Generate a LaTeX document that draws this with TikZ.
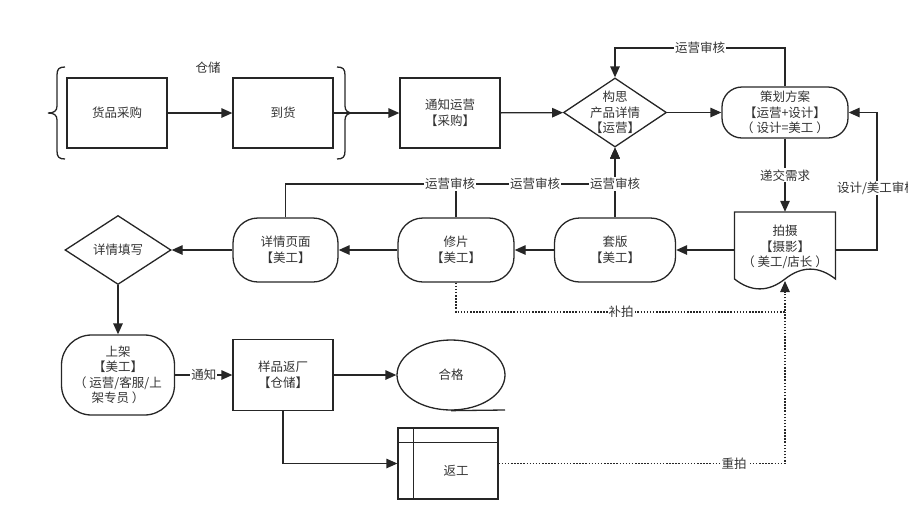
\documentclass[tikz,border=0pt]{standalone}
\usepackage{fontspec}
\setmainfont{Noto Sans CJK SC}
\usetikzlibrary{arrows.meta,shapes.geometric,calc}
\definecolor{ink}{HTML}{262626}
\definecolor{txt}{HTML}{333333}
\begin{document}
\begin{tikzpicture}[x=1pt,y=-1pt,
  every node/.style={font=\fontsize{12.5}{15.5}\selectfont, text=txt},
  ln/.style={line width=1.3pt, draw=ink},
  arr/.style={ln, -{Triangle[length=11pt,width=9.5pt]}},
  dotln/.style={ln, dash pattern=on 1.5pt off 1.6pt},
  box/.style={ln, rectangle, minimum width=100pt, minimum height=70pt, align=center, inner sep=0pt},
  rbox/.style={box, rounded corners=25pt},
  dia/.style={ln, diamond, inner sep=0pt},
  lbl/.style={fill=white, inner sep=1pt},
]
\useasboundingbox (0,0) rectangle (908,531);

% top row
\node[box] (caigou) at (117,113) {货品采购};
\node[box] (daohuo) at (283,113) {到货};
\node[box] (tongzhi) at (450,113) {通知运营\\【采购】};
\node[dia, minimum width=103pt, minimum height=69pt] (gousi) at (615,112.5) {};
\node[align=center] (gousitxt) at (gousi.center) {构思\\产品详情\\【运营】};
\node[rbox, minimum width=126pt, minimum height=51pt, rounded corners=20pt] (cehua) at (785,112.5) {策划方案\\【运营+设计】\\（ 设计=美工 ）};
\node (cangchu) at (208,68) {仓储};

% braces
\draw[ln] (65,67) .. controls (59,67) and (57,69) .. (57,75) -- (57,106) .. controls (57,111) and (54,113) .. (48,113) .. controls (54,113) and (57,115) .. (57,120) -- (57,151) .. controls (57,157) and (59,159) .. (65,159);
\draw[ln] (337,67) .. controls (343,67) and (345,69) .. (345,75) -- (345,106) .. controls (345,111) and (348,113) .. (353,113) .. controls (348,113) and (345,115) .. (345,120) -- (345,151) .. controls (345,157) and (343,159) .. (337,159);

% middle row
\node[minimum width=101pt, minimum height=78pt, inner sep=0pt] (paishe) at (785,251) {};
\draw[ln] (734.5,212) -- (835.5,212) -- (835.5,279) .. controls (818.7,265.8) and (801.8,265.8) .. (785,279) .. controls (768.2,292.2) and (751.3,292.2) .. (734.5,279) -- cycle;
\node[align=center] (paishetxt) at (785,247) {拍摄\\【摄影】\\（ 美工/店长 ）};
\coordinate (paishebot) at (785,281);

\node[rbox, minimum width=121pt, minimum height=64pt] (taoban) at (615,250) {套版\\【美工】};
\node[rbox, minimum width=116pt, minimum height=64pt] (xiupian) at (456,250) {修片\\【美工】};
\node[rbox, minimum width=105pt, minimum height=64pt] (xqym) at (285.5,250) {详情页面\\【美工】};
\node[dia, minimum width=106pt, minimum height=69pt] (xqtx) at (118,250) {};
\node (xqtxtxt) at (xqtx.center) {详情填写};

% bottom row
\node[rbox, minimum width=113pt, minimum height=80pt, rounded corners=30pt] (shangjia) at (118,375) {上架\\【美工】\\（ 运营/客服/上\\架专员 ）};
\node[box, minimum height=71pt] (yangpin) at (283,375) {样品返厂\\【仓储】};
\node[ln, ellipse, minimum width=108pt, minimum height=70pt, inner sep=0pt] (hege) at (451,375) {合格};
\draw[ln] (hege.south) -- (505,410);
\node[box, minimum height=71pt] (fangong) at (448,463.5) {};
\draw[ln] ($(fangong.north west)+(16,0)$) -- ($(fangong.south west)+(16,0)$);
\draw[ln] ($(fangong.north west)+(0,15)$) -- ($(fangong.north east)+(0,15)$);
\node (fangongtxt) at (456,471) {返工};

% connectors
\draw[arr] (caigou) -- (daohuo);
\draw[arr] (daohuo) -- (tongzhi);
\draw[arr] (tongzhi) -- (gousi);
\draw[arr] (gousi) -- (cehua);
\draw[arr] (cehua.north) -- (785,48) -- node[lbl]{运营审核} (615,48) -- (gousi.north);
\draw[arr] (cehua.south) -- node[lbl]{递交需求} (paishe.north);
\draw[arr] (paishe.east |- taoban.east) -- (877,250) -- (877,112.5) -- (cehua.east);
\node[lbl] at (877,188) {设计/美工审核};
\draw[arr] (taoban.east -| paishe.west) -- (taoban.east);
\draw[arr] (taoban) -- (xiupian);
\draw[arr] (xiupian) -- (xqym);
\draw[arr] (xqym) -- (xqtx);
\draw[arr] (taoban.north) -- (gousi.south);
\draw[arr] (xiupian.north) -- (456,184) -- (615,184) -- (gousi.south);
\draw[arr] (xqym.north) -- (285.5,184) -- (615,184) -- (gousi.south);
\node[lbl] at (615,184) {运营审核};
\node[lbl] at (535,184) {运营审核};
\node[lbl] at (450,184) {运营审核};
\draw[arr] (xqtx) -- (shangjia);
\draw[arr] (shangjia) -- node[lbl]{通知} (yangpin);
\draw[arr] (yangpin) -- (hege);
\draw[arr] (yangpin.south) |- (fangong.west);
\draw[dotln, -{Triangle[length=11pt,width=9.5pt]}] (xiupian.south) |- (785,312) -- (paishebot);
\draw[dotln] (fangong.east) -| (785,312);
\node[lbl] at (621,312) {补拍};
\node[lbl] at (734,463.5) {重拍};
\end{tikzpicture}
\end{document}
